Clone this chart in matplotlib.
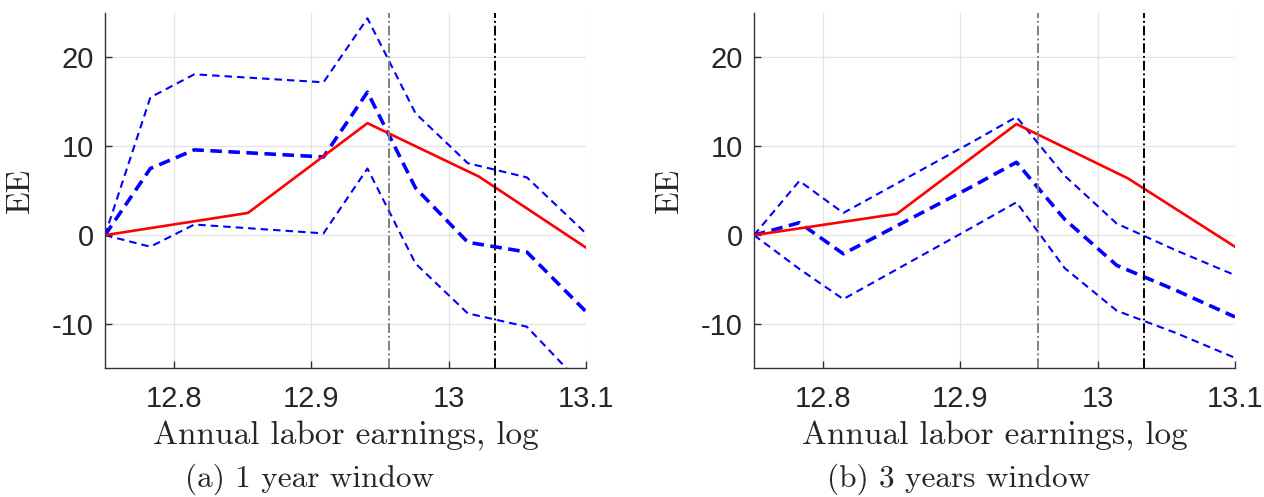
import numpy as np
import matplotlib
matplotlib.use("Agg")
import matplotlib.pyplot as plt

plt.rcParams['axes.unicode_minus'] = False

# grid of earnings (log) for the bands and the point estimate
x_band = [12.75, 12.783, 12.815, 12.909, 12.941, 12.976, 13.014, 13.057, 13.1]
x_red = [12.75, 12.854, 12.941, 13.022, 13.1]

# (a) 1 year window
red_1y = [0, 2.5, 12.6, 6.6, -1.4]
upper_1y = [0, 15.5, 18.1, 17.2, 24.4, 13.7, 8.1, 6.5, 0.2]
mid_1y = [0, 7.5, 9.6, 8.8, 16.1, 5.3, -0.8, -1.9, -8.6]
low_1y = [0, -1.3, 1.2, 0.2, 7.5, -3.2, -8.8, -10.3, -17.3]

# (b) 3 years window
red_3y = [0, 2.4, 12.5, 6.4, -1.3]
upper_3y = [0, 6.1, 2.5, 10.5, 13.3, 6.7, 1.3, -1.7, -4.5]
mid_3y = [0, 1.4, -2.1, 5.5, 8.2, 1.8, -3.4, -6.2, -9.2]
low_3y = [0, -3.8, -7.2, 0.9, 3.7, -3.7, -8.5, -11.0, -13.8]

vline_gray = 12.957
vline_black = 13.034

xticks = [12.8, 12.9, 13.0, 13.1]
xticklabels = ['12.8', '12.9', '13', '13.1']
yticks = [-10, 0, 10, 20]

panels = [("(a) 1 year window", red_1y, upper_1y, mid_1y, low_1y),
          ("(b) 3 years window", red_3y, upper_3y, mid_3y, low_3y)]

fig = plt.figure(figsize=(12.64, 4.97), dpi=100)
lefts = [105 / 1264, 754 / 1264]
serif = 'cmr10'

for left, (caption, red, up, mid, low) in zip(lefts, panels):
    ax = fig.add_axes([left, 0.2586, 0.3805, 0.7153])
    ax.grid(True, color='#e3e3e3', lw=0.9)
    ax.set_axisbelow(True)

    ax.plot(x_band, up, color='#0000ff', lw=1.5, dashes=(3.6, 2.4))
    ax.plot(x_band, low, color='#0000ff', lw=1.5, dashes=(3.6, 2.4))
    ax.plot(x_band, mid, color='#0000ff', lw=2.6, dashes=(3.2, 1.8))
    ax.plot(x_red, red, color='#ff0000', lw=1.9)

    ax.axvline(vline_gray, color='#808080', lw=1.4, ls=(0, (5, 1.5, 1, 1.5)))
    ax.axvline(vline_black, color='black', lw=1.4, ls=(0, (5, 1.5, 1, 1.5)))

    ax.set_xlim(12.75, 13.1)
    ax.set_ylim(-15, 25)
    ax.set_xticks(xticks)
    ax.set_xticklabels(xticklabels)
    ax.set_yticks(yticks)
    for s in ['top', 'right']:
        ax.spines[s].set_visible(False)
    for s in ['left', 'bottom']:
        ax.spines[s].set_color('#333333')
        ax.spines[s].set_linewidth(1.0)
    ax.tick_params(direction='in', length=5, width=1, colors='#333333',
                   labelcolor='#262626', labelsize=21)
    ax.tick_params(axis='x', pad=12)
    ax.tick_params(axis='y', pad=8)
    for t in ax.get_xticklabels() + ax.get_yticklabels():
        t.set_fontfamily('Liberation Sans')

    ax.set_xlabel('Annual labor earnings, log', fontfamily=serif, fontsize=24,
                  color='#262626')
    ax.xaxis.set_label_coords(0.5, -0.145)
    ax.set_ylabel('EE', fontfamily=serif, fontsize=24, color='#262626')
    ax.yaxis.set_label_coords(-0.145, 0.5)

    cx = left + 0.3805 / 2 - 36 / 1264
    fig.text(cx, 1 - 479 / 497, caption, fontfamily=serif, fontsize=22.5,
             ha='center', va='center', color='#262626')

fig.savefig("out.png", dpi=100)
